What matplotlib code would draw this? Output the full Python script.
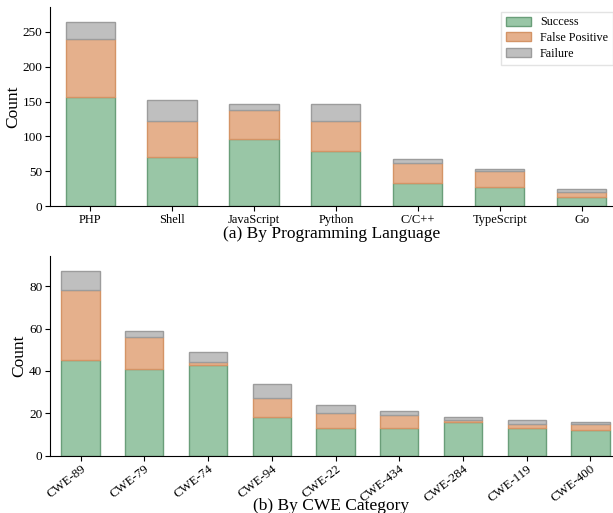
import numpy as np
import matplotlib
matplotlib.use('Agg')
import matplotlib.pyplot as plt

plt.rcParams['font.family'] = ['Liberation Serif', 'DejaVu Serif']

# By programming language
languages = ['PHP', 'Shell', 'JavaScript', 'Python', 'C/C++', 'TypeScript', 'Go']
lang_success = [156, 70, 96, 79, 34, 28, 13]
lang_false_pos = [83, 52, 42, 43, 28, 23, 8]
lang_failure = [25, 30, 9, 25, 5, 3, 3]

# By CWE category
cwes = ['CWE-89', 'CWE-79', 'CWE-74', 'CWE-94', 'CWE-22', 'CWE-434', 'CWE-284', 'CWE-119', 'CWE-400']
cwe_success = [45, 41, 43, 18, 13, 13, 16, 13, 12]
cwe_false_pos = [33, 15, 1, 9, 7, 6, 1, 2, 3]
cwe_failure = [9, 3, 5, 7, 4, 2, 1, 2, 1]

colors = {
    'Success': ('#99c6a6', '#6a9e79'),
    'False Positive': ('#e5b08c', '#d49466'),
    'Failure': ('#bfbfbf', '#9c9c9c'),
}

fig = plt.figure(figsize=(6.13, 5.13), dpi=100)
ax1 = fig.add_axes([0.0816, 0.598, 0.918, 0.389])
ax2 = fig.add_axes([0.0816, 0.112, 0.918, 0.389])


def stacked(ax, labels, s, fp, f):
    x = np.arange(len(labels))
    s = np.array(s)
    fp = np.array(fp)
    f = np.array(f)
    w = 0.6
    ax.bar(x, s, w, label='Success', color=colors['Success'][0],
           edgecolor=colors['Success'][1], linewidth=1)
    ax.bar(x, fp, w, bottom=s, label='False Positive', color=colors['False Positive'][0],
           edgecolor=colors['False Positive'][1], linewidth=1)
    ax.bar(x, f, w, bottom=s + fp, label='Failure', color=colors['Failure'][0],
           edgecolor=colors['Failure'][1], linewidth=1)
    ax.spines['top'].set_visible(False)
    ax.spines['right'].set_visible(False)
    ax.set_ylabel('Count', fontsize=12.5)
    ax.tick_params(axis='y', labelsize=9.5, pad=2)
    ax.tick_params(axis='x', labelsize=9, pad=2)
    ax.set_xticks(x)
    return x


x1 = stacked(ax1, languages, lang_success, lang_false_pos, lang_failure)
ax1.set_xticklabels(languages)
ax1.set_xlim(-0.49, 6.38)
ax1.set_ylim(0, 286)
ax1.set_xlabel('(a) By Programming Language', fontsize=12.5, labelpad=0)
ax1.yaxis.set_label_coords(-0.051, 0.5)
ax1.legend(loc='upper right', fontsize=8.7, fancybox=False, edgecolor='#dddddd',
           bbox_to_anchor=(1.0, 0.975), borderaxespad=0, handlelength=2.05,
           handleheight=0.75, handletextpad=0.75, labelspacing=0.3)

x2 = stacked(ax2, cwes, cwe_success, cwe_false_pos, cwe_failure)
ax2.set_xticklabels(cwes, rotation=38, ha='right', rotation_mode='anchor')
ax2.tick_params(axis='x', labelsize=9.3)
ax2.set_xlim(-0.48, 8.35)
ax2.set_ylim(0, 94.3)
ax2.set_xlabel('(b) By CWE Category', fontsize=12.5)
ax2.xaxis.set_label_coords(0.5, -0.215)
ax2.yaxis.set_label_coords(-0.041, 0.5)

fig.savefig('out.png', dpi=100)
